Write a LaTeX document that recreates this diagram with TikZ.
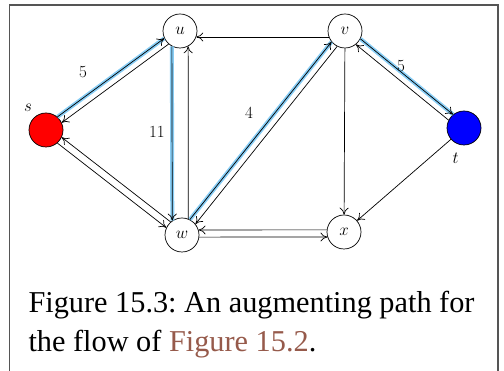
\documentclass[tikz,border=0pt]{standalone}
\usepackage{fix-cm}
\usepackage{fontspec}
\newfontfamily\capfont{Liberation Serif}
\usetikzlibrary{arrows.meta}
\definecolor{pathblue}{RGB}{135,205,245}
\definecolor{linkbrown}{RGB}{150,90,75}
\definecolor{framegray}{RGB}{85,85,85}

\begin{document}
\begin{tikzpicture}[x=1pt,y=1pt,
            vertex/.style={circle,draw,line width=0.7pt,minimum size=34pt,inner sep=0pt,font=\fontsize{17}{20}\selectfont},
            weight/.style={font=\fontsize{17}{20}\selectfont},
            arc/.style={line width=0.7pt,-{To[length=7pt,width=9pt]}},
            aug/.style={pathblue,line width=4pt}]
            \useasboundingbox (0,0) rectangle (504,371);
            \draw[framegray,line width=1.5pt] (9.5,0) |- (498,366) -- (498,0);
            \node[vertex,fill=red,label={[weight,label distance=1pt]125:$s$}] (s) at (46,241) {};
            \node[vertex] (u) at (180,340) {$u$};
            \node[vertex] (v) at (345,340) {$v$};
            \node[vertex,fill=blue,label={[weight,label distance=4pt]265:$t$}] (t) at (464,243) {};
            \node[vertex] (w) at (182,136) {$w$};
            \node[vertex] (x) at (344,139) {$x$};
            \draw[aug] (s.49) -- (u.205);
            \draw[aug] (u.242) -- (w.124);
            \draw[aug] (w.63) -- (v.219);
            \draw[aug] (v.333) -- (t.129);
            \draw[arc] (s.49) -- (u.205);
            \draw[arc] (u.229) -- (s.25);
            \draw[arc] (s.311) -- (w.155);
            \draw[arc] (w.131) -- (s.335);
            \draw[arc] (u.242) -- (w.124);
            \draw[arc] (w.69) -- (u.298);
            \draw[arc] (w.63) -- (v.219);
            \draw[arc] (v.243) -- (w.39);
            \draw[arc] (v.200) -- (u.340);
            \draw[arc] (x.173) -- (w.17);
            \draw[arc] (w.353) -- (x.197);
            \draw[arc] (v) -- (x);
            \draw[arc] (v.333) -- (t.129);
            \draw[arc] (t.153) -- (v.309);
            \draw[arc] (t) -- (x);
            \node[weight] (c-su) at (83,299) {$5$};
            \node[weight] (c-uw) at (157,239) {$11$};
            \node[weight] (c-wv) at (249,258) {$4$};
            \node[weight] (c-vt) at (401,305) {$5$};
            \node[anchor=base west,align=left,font=\capfont\fontsize{30.3}{39}\selectfont\frenchspacing] (caption) at (25,19)
                {Figure 15.3: An augmenting path for\\the flow of \textcolor{linkbrown}{Figure 15.2}.};
        \end{tikzpicture}
\end{document}
